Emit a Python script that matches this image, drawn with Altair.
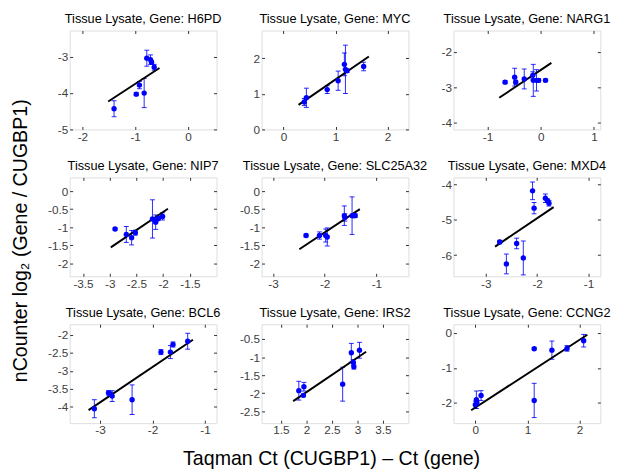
import altair as alt
import pandas as pd

FONT = "Liberation Sans"

genes = ["H6PD", "MYC", "NARG1", "NIP7", "SLC25A32", "MXD4", "BCL6", "IRS2", "CCNG2"]

# Taqman delta-Ct (x), nCounter log2 ratio (y), error (half-length of bar)
x_vals = {
    "H6PD": [-1.40, -0.98, -0.92, -0.83, -0.78, -0.71, -0.69, -0.64],
    "MYC": [0.40, 0.44, 0.84, 1.05, 1.17, 1.19, 1.22, 1.54],
    "NARG1": [-0.67, -0.49, -0.47, -0.31, -0.15, -0.14, -0.08, -0.04, 0.09],
    "NIP7": [-2.90, -2.69, -2.59, -2.52, -2.20, -2.14, -2.11, -2.09, -2.01],
    "SLC25A32": [-2.36, -2.10, -1.98, -1.95, -1.62, -1.61, -1.47, -1.44, -1.41],
    "MXD4": [-2.73, -2.60, -2.40, -2.27, -2.09, -2.06, -1.84, -1.80, -1.77],
    "BCL6": [-3.11, -2.84, -2.81, -2.77, -2.39, -1.84, -1.66, -1.61, -1.33],
    "IRS2": [1.85, 1.94, 1.95, 2.71, 2.88, 2.92, 2.93, 3.04],
    "CCNG2": [0.00, 0.02, 0.03, 0.11, 1.13, 1.13, 1.47, 1.76, 2.08],
}
y_vals = {
    "H6PD": [-4.43, -4.03, -3.78, -4.00, -3.04, -3.08, -3.15, -3.29],
    "MYC": [0.77, 0.89, 1.12, 1.37, 1.83, 1.69, 1.65, 1.77],
    "NARG1": [-2.85, -2.71, -2.85, -2.76, -2.66, -2.80, -2.80, -2.80, -2.80],
    "NIP7": [-1.05, -1.20, -1.29, -1.15, -0.77, -0.86, -0.77, -0.75, -0.70],
    "SLC25A32": [-1.23, -1.23, -1.23, -1.27, -0.68, -0.73, -0.68, -0.68, -0.68],
    "MXD4": [-5.63, -6.25, -5.67, -6.08, -4.18, -4.67, -4.39, -4.46, -4.53],
    "BCL6": [-4.05, -3.61, -3.64, -3.70, -3.80, -2.48, -2.48, -2.27, -2.18],
    "IRS2": [-1.93, -2.06, -1.82, -1.75, -0.88, -1.15, -1.27, -0.81],
    "CCNG2": [-2.05, -1.91, -2.00, -1.79, -0.45, -1.93, -0.49, -0.44, -0.22],
}
err_vals = {
    "H6PD": [0.22, 0.04, 0.10, 0.40, 0.22, 0.13, 0.05, 0.08],
    "MYC": [0.10, 0.27, 0.11, 0.27, 0.32, 0.68, 0.05, 0.12],
    "NARG1": [0.04, 0.25, 0.05, 0.28, 0.10, 0.45, 0.30, 0.05, 0.04],
    "NIP7": [0.03, 0.22, 0.20, 0.07, 0.53, 0.20, 0.05, 0.05, 0.10],
    "SLC25A32": [0.04, 0.10, 0.18, 0.25, 0.27, 0.10, 0.52, 0.05, 0.05],
    "MXD4": [0.05, 0.28, 0.15, 0.48, 0.25, 0.16, 0.12, 0.05, 0.08],
    "BCL6": [0.25, 0.06, 0.05, 0.15, 0.41, 0.07, 0.18, 0.07, 0.22],
    "IRS2": [0.26, 0.04, 0.12, 0.47, 0.26, 0.08, 0.06, 0.22],
    "CCNG2": [0.10, 0.25, 0.05, 0.14, 0.03, 0.49, 0.26, 0.08, 0.18],
}
# regression line end points: [x1, y1, x2, y2]
fit_lines = {
    "H6PD": [-1.51, -4.23, -0.54, -3.31],
    "MYC": [0.29, 0.69, 1.64, 2.05],
    "NARG1": [-0.78, -3.29, 0.20, -2.31],
    "NIP7": [-2.98, -1.56, -1.91, -0.49],
    "SLC25A32": [-2.49, -1.61, -1.32, -0.50],
    "MXD4": [-2.82, -5.76, -1.68, -4.64],
    "BCL6": [-3.22, -4.09, -1.23, -2.14],
    "IRS2": [1.74, -2.22, 3.17, -0.85],
    "CCNG2": [-0.08, -2.21, 2.15, -0.05],
}
x_domains = {
    "H6PD": [-2.24, 0.54], "MYC": [-0.42, 2.40], "NARG1": [-1.64, 1.12],
    "NIP7": [-3.75, -1.0], "SLC25A32": [-3.22, -0.38], "MXD4": [-3.63, -0.77],
    "BCL6": [-3.58, -0.78], "IRS2": [1.12, 4.0], "CCNG2": [-0.42, 2.40],
}
y_domains = {
    "H6PD": [-5.0, -2.28], "MYC": [0.0, 2.78], "NARG1": [-4.18, -1.40],
    "NIP7": [-2.36, 0.38], "SLC25A32": [-2.36, 0.38], "MXD4": [-6.6, -3.8],
    "BCL6": [-4.45, -1.71], "IRS2": [-2.83, -0.09], "CCNG2": [-2.58, 0.25],
}
x_ticks = {
    "H6PD": [-2, -1, 0], "MYC": [0, 1, 2], "NARG1": [-1, 0, 1],
    "NIP7": [-3.5, -3, -2.5, -2, -1.5], "SLC25A32": [-3, -2, -1], "MXD4": [-3, -2, -1],
    "BCL6": [-3, -2, -1], "IRS2": [1.5, 2, 2.5, 3, 3.5], "CCNG2": [0, 1, 2],
}
y_ticks = {
    "H6PD": [-5, -4, -3], "MYC": [0, 1, 2], "NARG1": [-4, -3, -2],
    "NIP7": [-2, -1.5, -1, -0.5, 0], "SLC25A32": [-2, -1.5, -1, -0.5, 0],
    "MXD4": [-6, -5, -4], "BCL6": [-4, -3.5, -3, -2.5, -2],
    "IRS2": [-2.5, -2, -1.5, -1, -0.5], "CCNG2": [-2, -1, 0],
}

X_TITLE = "Taqman Ct (CUGBP1) \u2013 Ct (gene)"
Y_TITLE = "nCounter log\u2082 (Gene / CUGBP1)"

W, H = 150, 101
BLUE = "#0000ff"
TICK_COL = "#303030"
LAB_COL = "#404040"


def make_panel(i, g):
    df = pd.DataFrame({"x": x_vals[g], "y": y_vals[g], "e": err_vals[g]})
    df["lo"] = df["y"] - df["e"]
    df["hi"] = df["y"] + df["e"]
    lx1, ly1, lx2, ly2 = fit_lines[g]
    ldf = pd.DataFrame({"x1": [lx1], "y1": [ly1], "x2": [lx2], "y2": [ly2]})

    xs = alt.Scale(domain=x_domains[g], nice=False, zero=False)
    ys = alt.Scale(domain=y_domains[g], nice=False, zero=False)

    common = dict(grid=False, domain=False, offset=-3, tickSize=3, tickColor=TICK_COL,
                  labelFont=FONT, labelFontSize=12, labelColor=LAB_COL, labelPadding=2,
                  labelExpr="toString(datum.value)")
    xkw = dict(common)
    ykw = dict(common, title=None)
    if i == 7:
        xkw.update(title=X_TITLE, titleFont=FONT, titleFontSize=20, titleFontWeight="normal",
                   titleColor="black", titleX=W / 2 - 4, titleY=39, titleBaseline="middle",
                   titleAlign="center")
    else:
        xkw.update(title=None)

    base = alt.Chart(df)
    pts = base.mark_circle(size=30, color=BLUE, opacity=1).encode(
        x=alt.X("x:Q", scale=xs, axis=alt.Axis(values=x_ticks[g], **xkw)),
        y=alt.Y("y:Q", scale=ys, axis=alt.Axis(values=y_ticks[g], **ykw)),
    )
    bars = base.mark_rule(color=BLUE, strokeWidth=1, opacity=0.85).encode(
        x=alt.X("x:Q", axis=None), y=alt.Y("lo:Q", axis=None), y2="hi:Q"
    )
    cap_lo = base.mark_tick(color=BLUE, orient="horizontal", size=5, thickness=1, opacity=0.85).encode(
        x=alt.X("x:Q", axis=None), y=alt.Y("lo:Q", axis=None)
    )
    cap_hi = base.mark_tick(color=BLUE, orient="horizontal", size=5, thickness=1, opacity=0.85).encode(
        x=alt.X("x:Q", axis=None), y=alt.Y("hi:Q", axis=None)
    )
    fit = alt.Chart(ldf).mark_rule(color="black", strokeWidth=2).encode(
        x=alt.X("x1:Q", axis=None), y=alt.Y("y1:Q", axis=None), x2="x2:Q", y2="y2:Q"
    )
    mirror_kw = dict(grid=False, domain=False, offset=-3, tickSize=3, tickColor=TICK_COL,
                     labels=False, title=None)
    mirror = base.mark_circle(opacity=0).encode(
        x=alt.X("x:Q", axis=alt.Axis(orient="top", values=x_ticks[g], **mirror_kw)),
        y=alt.Y("y:Q", axis=alt.Axis(orient="right", values=y_ticks[g], **mirror_kw)),
    )
    return alt.layer(bars, cap_lo, cap_hi, fit, pts, mirror).resolve_axis(
        x="independent", y="independent"
    ).properties(
        width=W, height=H,
        title=alt.TitleParams(f"Tissue Lysate, Gene: {g}", font=FONT, fontSize=13,
                              fontWeight="normal", color="black", offset=4, anchor="middle"),
    )


panels = [make_panel(i, g) for i, g in enumerate(genes)]

chart = alt.concat(*panels, columns=3, spacing={"row": 49, "column": 46}, bounds="flush").properties(
    title=alt.TitleParams(Y_TITLE, orient="left", anchor="middle", font=FONT, fontSize=20,
                          fontWeight="normal", color="black", offset=16),
    padding={"left": 3, "top": 0, "right": 5, "bottom": 5},
).configure_view(stroke="#262626", strokeWidth=1).configure(background="white")

chart.save("out.html", embed_options={"renderer": "svg", "actions": False})
